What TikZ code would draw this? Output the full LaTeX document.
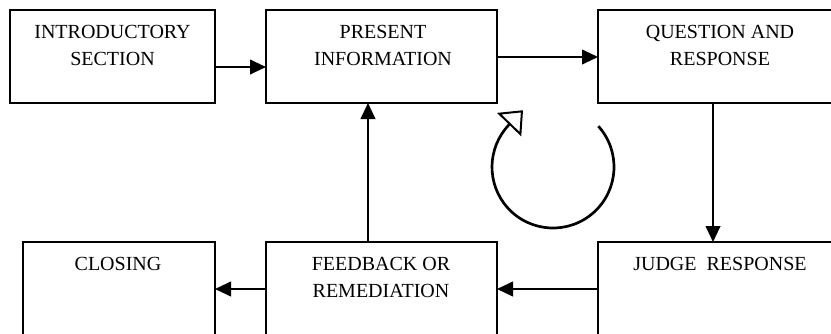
\documentclass[tikz,border=0pt]{standalone}
\usepackage{fontspec}
\setmainfont{Liberation Serif}
\usetikzlibrary{arrows.meta,fit}
\begin{document}
\begin{tikzpicture}[x=0.75pt,y=-0.75pt,
  box/.style={draw,line width=1.5pt,inner sep=0pt,outer sep=0pt},
  lbl/.style={align=center,inner sep=0pt,anchor=north,font=\fontsize{15pt}{20.5pt}\selectfont},
  conn/.style={line width=1.5pt,-{Triangle[length=12pt,width=11pt]}},
  loopline/.style={line width=2pt,-{Triangle[open,length=15pt,width=25pt,line width=1.5pt]}}]
\path[use as bounding box, clip] (0,0) rectangle (831,333);
% boxes
\node[box, fit={(10,10) (215,103)}] (intro) {};
\node[box, fit={(266,10) (497,103)}] (present) {};
\node[box, fit={(598,10) (860,103)}] (question) {};
\node[box, fit={(23,242) (215,360)}] (closing) {};
\node[box, fit={(266,242) (497,360)}] (feedback) {};
\node[box, fit={(598,242) (860,360)}] (judge) {};
% labels
\node[lbl] (tintro) at (112.5,25) {INTRODUCTORY\\SECTION};
\node[lbl] (tpresent) at (383,25) {PRESENT\\INFORMATION};
\node[lbl] (tquestion) at (720,25) {QUESTION AND\\RESPONSE};
\node[lbl] (tclosing) at (118,257) {CLOSING};
\node[lbl] (tfeedback) at (381,257) {FEEDBACK OR\\REMEDIATION};
\node[lbl] (tjudge) at (720,257) {JUDGE\ \ RESPONSE};
% connectors
\draw[conn] (intro.east |- 0,67) -- (present.west |- 0,67);
\draw[conn] (present.east |- 0,57) -- (question.west |- 0,57);
\draw[conn] (question.south -| 713,0) -- (judge.north -| 713,0);
\draw[conn] (judge.west |- 0,289) -- (feedback.east |- 0,289);
\draw[conn] (feedback.west |- 0,289) -- (closing.east |- 0,289);
\draw[conn] (feedback.north -| 368,0) -- (present.south -| 368,0);
% loop arrow
\coordinate (lc) at (553,167);
\draw[loopline] (lc) ++(-42:61) arc[start angle=-42, end angle=224, radius=61] -- ++(-46:20);
\end{tikzpicture}
\end{document}
